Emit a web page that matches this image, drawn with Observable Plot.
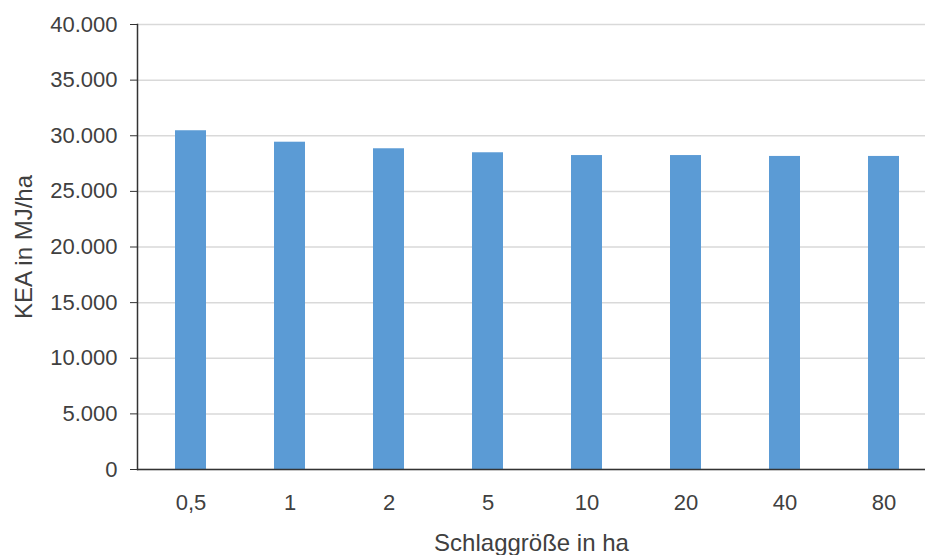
<!DOCTYPE html>
<html>
<head>
<meta charset="utf-8">
<script src="https://cdn.jsdelivr.net/npm/d3@7"></script>
<script src="https://cdn.jsdelivr.net/npm/@observablehq/plot@0.6"></script>
<style>
  html, body { margin: 0; padding: 0; background: #fff; }
  svg { display: block; }
</style>
</head>
<body>
<div id="chart"></div>
<script>
const categories = ["0,5", "1", "2", "5", "10", "20", "40", "80"];
const values = [30450, 29420, 28830, 28470, 28220, 28220, 28140, 28140];
const yTicks = [0, 5000, 10000, 15000, 20000, 25000, 30000, 35000, 40000];

const data = categories.map((c, i) => ({cat: c, val: values[i]}));
const de = d3.formatLocale({decimal: ",", thousands: ".", grouping: [3], currency: ["", " €"]});
const fmt = de.format(",d");

const chart = Plot.plot({
  width: 925,
  height: 555,
  marginLeft: 137,
  marginRight: 0,
  marginTop: 24,
  marginBottom: 86,
  style: {fontFamily: "Liberation Sans, Arial, sans-serif", fontSize: "22px", color: "#404040", background: "#fff"},
  x: {domain: categories, range: [139, 935], paddingInner: 0.69, paddingOuter: 0.345, label: null},
  y: {domain: [0, 40000], label: null},
  marks: [
    Plot.gridY(yTicks, {stroke: "#d9d9d9", strokeOpacity: 1, strokeWidth: 1.5}),
    Plot.barY(data, {x: "cat", y: "val", fill: "#5b9bd5"}),
    Plot.ruleY([0], {stroke: "#333", strokeWidth: 1.5}),
    Plot.frame({anchor: "left", stroke: "#333", strokeWidth: 1.5}),
    Plot.axisY({ticks: yTicks, tickFormat: fmt, tickSize: 7, tickPadding: 13, stroke: "#333", fontSize: 22, label: null}),
    Plot.axisY({ticks: [], tickSize: 0, fontSize: 24,
      label: "KEA in MJ/ha", labelAnchor: "center", labelArrow: "none", labelOffset: 123}),
    Plot.axisX({tickSize: 0, tickPadding: 25, fontSize: 22, label: null}),
    Plot.axisX({ticks: [], tickSize: 0, fontSize: 24,
      label: "Schlaggröße in ha", labelAnchor: "center", labelArrow: "none", labelOffset: 81})
  ]
});
document.getElementById("chart").appendChild(chart);
</script>
</body>
</html>
